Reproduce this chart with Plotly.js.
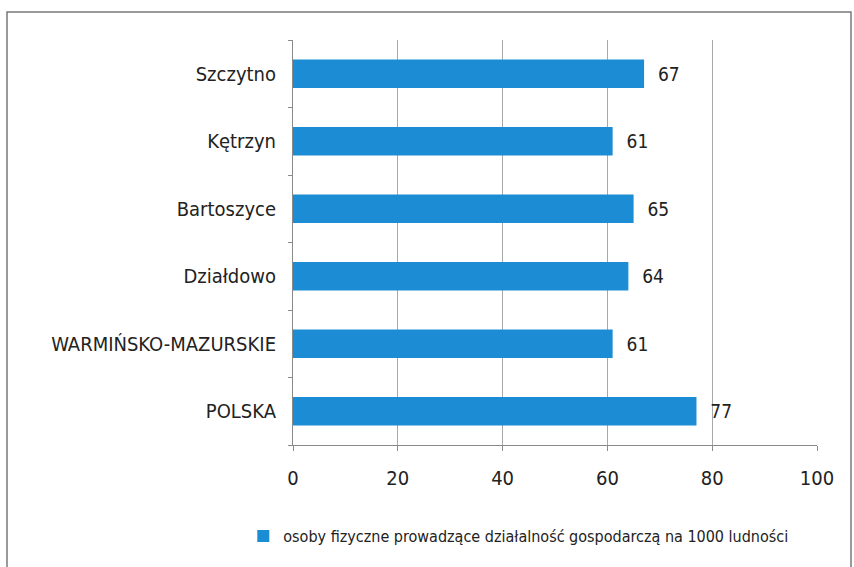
<!DOCTYPE html>
<html>
<head>
<meta charset="utf-8">
<script src="https://cdn.plot.ly/plotly-3.0.1.min.js"></script>
<style>
  html, body { margin: 0; padding: 0; background: #fff; }
  #chart { width: 854px; height: 567px; }
</style>
</head>
<body>
<div id="chart"></div>
<script>
// categories bottom to top, as drawn
var regions = ['POLSKA', 'WARMIŃSKO-MAZURSKIE', 'Działdowo', 'Bartoszyce', 'Kętrzyn', 'Szczytno'];
var perThousand = [77, 61, 64, 65, 61, 67];
var seriesName = 'osoby fizyczne prowadzące działalność gospodarczą na 1000 ludności';
var xTicks = [0, 20, 40, 60, 80, 100];

var barColor = '#1c8dd4';
var fontFamily = '"DejaVu Sans Condensed", "Liberation Sans Narrow", sans-serif';

var traces = [{
  type: 'bar',
  orientation: 'h',
  y: regions,
  x: perThousand,
  name: seriesName,
  marker: { color: barColor },
  text: perThousand.map(function (v) { return '  ' + v; }),
  textposition: 'outside',
  textfont: { size: 19, color: '#222', family: fontFamily },
  cliponaxis: false,
  showlegend: true,
  hovertemplate: '%{y}: %{x}<extra></extra>'
}];

var layout = {
  width: 854,
  height: 567,
  paper_bgcolor: '#fff',
  plot_bgcolor: '#fff',
  font: { family: fontFamily, color: '#222', size: 17 },
  bargap: 0.58,
  margin: { l: 293, r: 37, t: 40, b: 122 },
  xaxis: {
    range: [0, 100],
    tickvals: xTicks,
    ticktext: xTicks.map(String),
    showgrid: true,
    gridcolor: '#a8a8a8',
    gridwidth: 1,
    zeroline: false,
    showline: true,
    linecolor: '#8a8a8a',
    linewidth: 1,
    ticks: 'outside',
    ticklen: 5,
    tickcolor: '#8a8a8a',
    ticklabelstandoff: 10,
    tickfont: { size: 20, family: fontFamily, color: '#222' },
    fixedrange: true
  },
  yaxis: {
    type: 'category',
    showgrid: false,
    zeroline: false,
    showline: true,
    linecolor: '#8a8a8a',
    linewidth: 1,
    ticks: 'outside',
    tickson: 'boundaries',
    ticklen: 4,
    tickcolor: '#8a8a8a',
    ticklabelstandoff: 12,
    tickfont: { size: 20, family: fontFamily, color: '#222' },
    fixedrange: true
  },
  showlegend: true,
  legend: {
    orientation: 'h',
    x: 0.43,
    xanchor: 'center',
    y: -0.225,
    yanchor: 'middle',
    font: { size: 16, family: fontFamily, color: '#222' },
    itemwidth: 30
  },
  shapes: [{
    type: 'rect',
    xref: 'paper', yref: 'paper',
    x0: (7 - 293) / 524, x1: (851 - 293) / 524,
    y0: (445 - 580) / 405, y1: (445 - 12) / 405,
    line: { color: '#7a7a7a', width: 1.5 },
    fillcolor: 'rgba(0,0,0,0)'
  }]
};

Plotly.newPlot('chart', traces, layout, { displayModeBar: false, staticPlot: true });
</script>
</body>
</html>
